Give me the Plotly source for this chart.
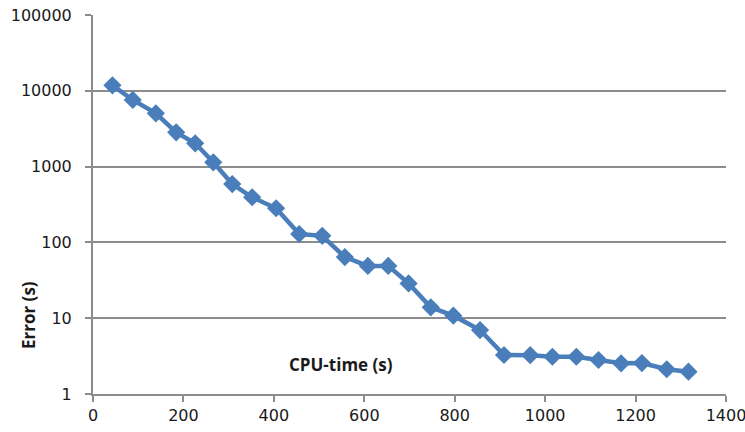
import plotly.graph_objects as go

cpu_time = [43, 88, 139, 184, 226, 266, 308, 352, 405, 456, 507, 557, 608, 653, 698,
            747, 797, 856, 909, 967, 1016, 1069, 1118, 1168, 1214, 1269, 1317]
error = [11800, 7570, 5050, 2830, 2030, 1140, 589, 394, 282, 129, 122, 64, 49, 49, 28.8,
         13.9, 10.8, 6.98, 3.27, 3.25, 3.10, 3.10, 2.81, 2.54, 2.56, 2.12, 1.97]
x_ticks = [0, 200, 400, 600, 800, 1000, 1200, 1400]
y_ticks = [1, 10, 100, 1000, 10000, 100000]

fig = go.Figure()
fig.add_trace(go.Scatter(
    x=cpu_time, y=error, mode="lines+markers",
    line=dict(color="#4A7EBB", width=4.5),
    marker=dict(symbol="diamond", size=14, color="#4A7EBB"),
    showlegend=False,
))

axis_font = dict(family="DejaVu Sans", size=16, color="#1a1a1a")
fig.update_layout(
    width=745, height=432,
    margin=dict(l=93, r=19, t=15, b=38),
    paper_bgcolor="white", plot_bgcolor="white",
    xaxis=dict(range=[0, 1400], tickvals=x_ticks, ticktext=[str(v) for v in x_ticks],
               automargin=False, ticklabeloverflow="allow",
               showgrid=False, zeroline=False, showline=True, linecolor="#8c8c8c", linewidth=2,
               ticks="outside", ticklen=6, tickcolor="#8c8c8c", tickwidth=2, tickfont=axis_font),
    yaxis=dict(type="log", range=[0, 5], tickvals=y_ticks, ticktext=[str(v) for v in y_ticks],
               automargin=False, ticklabelstandoff=10, ticklabeloverflow="allow",
               showgrid=True, gridcolor="#8c8c8c", gridwidth=1.5, zeroline=False,
               showline=True, linecolor="#8c8c8c", linewidth=2,
               ticks="outside", ticklen=6, tickcolor="#8c8c8c", tickwidth=2, tickfont=axis_font),
)
fig.add_annotation(text="<b>CPU-time (s)</b>", x=(340.5 - 93) / 633, y=(394 - 364) / 379,
                   xref="paper", yref="paper", showarrow=False,
                   xanchor="center", yanchor="middle",
                   font=dict(family="Open Sans", size=17, color="#1a1a1a"))
fig.add_annotation(text="<b>Error (s)</b>", x=(28 - 93) / 633, y=(394 - 315) / 379,
                   xref="paper", yref="paper", showarrow=False, textangle=-90,
                   xanchor="center", yanchor="middle",
                   font=dict(family="Open Sans", size=17, color="#1a1a1a"))

fig.write_html("out.html", config={"displayModeBar": False},
               post_script="document.body.style.margin='0';document.body.style.padding='0';")
